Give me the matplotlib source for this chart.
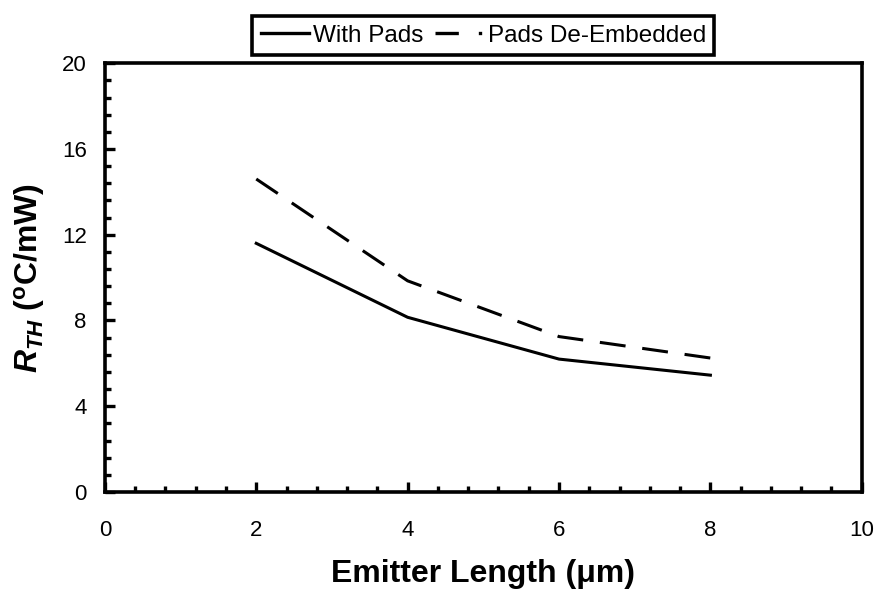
import matplotlib
matplotlib.use("Agg")
import matplotlib.pyplot as plt
from matplotlib.ticker import MultipleLocator

plt.rcParams['font.family'] = ['Liberation Sans', 'DejaVu Sans']
plt.rcParams['mathtext.fontset'] = 'custom'
plt.rcParams['mathtext.rm'] = 'Liberation Sans:bold'
plt.rcParams['mathtext.it'] = 'Liberation Sans:italic:bold'
plt.rcParams['mathtext.bf'] = 'Liberation Sans:bold'

# emitter length (um) and thermal resistance (C/mW)
emitter_len = [2, 4, 6, 8]
rth_with_pads = [11.6, 8.15, 6.2, 5.45]
rth_deembedded = [14.6, 9.85, 7.25, 6.25]

fig = plt.figure(figsize=(8.74, 5.91), dpi=100)
ax = fig.add_axes([0.120, 0.1675, 0.866, 0.7255])

ax.plot(emitter_len, rth_with_pads, color='black', lw=2.2, label='With Pads')
ax.plot(emitter_len, rth_deembedded, color='black', lw=2.2, dashes=(8.5, 5.5),
        label='Pads De-Embedded')

ax.set_xlim(0, 10)
ax.set_ylim(0, 20)
ax.xaxis.set_major_locator(MultipleLocator(2))
ax.xaxis.set_minor_locator(MultipleLocator(0.4))
ax.yaxis.set_major_locator(MultipleLocator(4))
ax.yaxis.set_minor_locator(MultipleLocator(0.8))
ax.tick_params(which='both', direction='in', width=2.4, labelsize=16)
ax.tick_params(which='major', length=7)
ax.tick_params(which='minor', length=4)
ax.tick_params(axis='x', which='both', top=False, pad=20)
ax.tick_params(axis='y', which='both', right=False, pad=13)
for s in ax.spines.values():
    s.set_linewidth(2.6)

ax.set_xlabel('Emitter Length (μm)', fontsize=23, fontweight='bold', labelpad=13)
ax.set_ylabel(r'$R_{TH}$ ($^{\mathbf{o}}$C/mW)', fontsize=23, fontweight='bold', labelpad=11)

leg = ax.legend(loc='lower center', bbox_to_anchor=(0.5, 1.019), ncol=2,
                fontsize=17.5, frameon=True, fancybox=False, framealpha=1.0,
                borderpad=0.35, handlelength=2.0, handletextpad=0.15,
                columnspacing=0.5, borderaxespad=0.0)
leg.get_frame().set_edgecolor('black')
leg.get_frame().set_linewidth(2.6)
for ln in leg.get_lines():
    ln.set_linewidth(2.4)
leg.get_lines()[1].set_dashes((7.0, 6.0, 1.0, 10.0))

fig.savefig('out.png', dpi=100)
